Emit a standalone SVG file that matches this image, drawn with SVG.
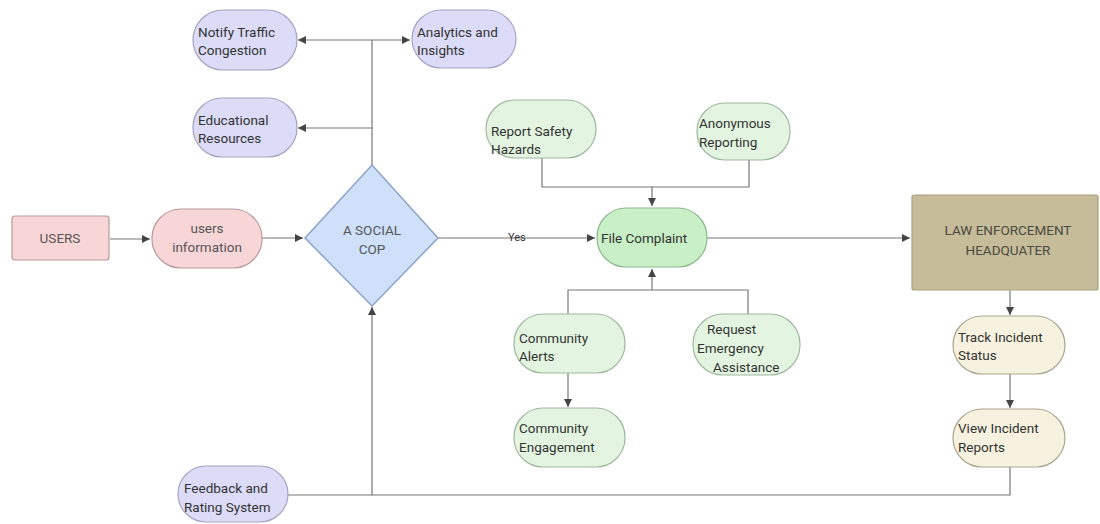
<svg xmlns="http://www.w3.org/2000/svg" width="1100" height="524" viewBox="0 0 1100 524">
<defs>
<marker id="arr" markerWidth="10" markerHeight="10" refX="8" refY="4" orient="auto" markerUnits="userSpaceOnUse">
<path d="M0,0 L8,4 L0,8 Z" fill="#444"/>
</marker>
<style>
text{font-family:Roboto,"Liberation Sans",sans-serif;font-size:13.5px;fill:#333}
.c{text-anchor:middle}
.lav{fill:#dcdcf8;stroke:#a3a3c2;stroke-width:1.2}
.grn{fill:#e3f5e1;stroke:#9fb89f;stroke-width:1.2}
.grn2{fill:#c8efc6;stroke:#8fb88f;stroke-width:1.2}
.pnk{fill:#f8d6d8;stroke:#b89a9c;stroke-width:1.2}
.crm{fill:#f6f2df;stroke:#aaa590;stroke-width:1.2}
.ln{fill:none;stroke:#777;stroke-width:1.2}
</style>
</defs>
<rect width="1100" height="524" fill="#fff"/>
<g id="connectors">
<path class="ln" d="M372,165 L372,40"/>
<path class="ln" d="M372,40 L298,40" marker-end="url(#arr)"/>
<path class="ln" d="M372,40 L410,40" marker-end="url(#arr)"/>
<path class="ln" d="M372,128 L298,128" marker-end="url(#arr)"/>
<path class="ln" d="M110,239 L150,239" marker-end="url(#arr)"/>
<path class="ln" d="M262,238 L303,238" marker-end="url(#arr)"/>
<path class="ln" d="M438,238 L595,238" marker-end="url(#arr)"/>
<text x="508" y="241" style="font-size:11px">Yes</text>
<path class="ln" d="M542,158 L542,187 L652,187"/>
<path class="ln" d="M749,160 L749,187 L652,187 L652,206" marker-end="url(#arr)"/>
<path class="ln" d="M568,314 L568,290 L748,290 L748,314"/>
<path class="ln" d="M652,290 L652,269" marker-end="url(#arr)"/>
<path class="ln" d="M568,373 L568,407" marker-end="url(#arr)"/>
<path class="ln" d="M707,238 L910,238" marker-end="url(#arr)"/>
<path class="ln" d="M1010,290 L1010,315" marker-end="url(#arr)"/>
<path class="ln" d="M1010,374 L1010,408" marker-end="url(#arr)"/>
<path class="ln" d="M1010,467 L1010,495 L372,495 L372,307" marker-end="url(#arr)"/>
<path class="ln" d="M288,495 L372,495"/>
</g>
<g id="notify"><rect class="lav" x="193" y="10" width="104" height="60" rx="30"/><text x="198" y="37">Notify Traffic</text><text x="198" y="55">Congestion</text></g>
<g id="analytics"><rect class="lav" x="412" y="10" width="104" height="58" rx="29"/><text x="417" y="37">Analytics and</text><text x="417" y="55">Insights</text></g>
<g id="educational"><rect class="lav" x="193" y="98" width="104" height="59" rx="29"/><text x="198" y="125">Educational</text><text x="198" y="143">Resources</text></g>
<g id="users"><rect class="pnk" x="12" y="216" width="97" height="44" rx="3"/><text class="c" x="60" y="243" style="fill:#555">USERS</text></g>
<g id="usersinfo"><rect class="pnk" x="152" y="209" width="110" height="59" rx="29"/><text class="c" x="207" y="233" style="fill:#555">users</text><text class="c" x="207" y="252" style="fill:#555">information</text></g>
<g id="socialcop"><path d="M372,165 L438,238 L372,306 L305,238 Z" fill="#cfe0fb" stroke="#8ea3c9" stroke-width="1.5"/><text class="c" x="372" y="235" style="fill:#555">A SOCIAL</text><text class="c" x="372" y="254" style="fill:#555">COP</text></g>
<g id="reportsafety"><rect class="grn" x="486" y="100" width="110" height="58" rx="29"/><text x="491" y="136">Report Safety</text><text x="491" y="154">Hazards</text></g>
<g id="anonymous"><rect class="grn" x="697" y="103" width="93" height="57" rx="28"/><text x="699" y="128">Anonymous</text><text x="699" y="147">Reporting</text></g>
<g id="filecomplaint"><rect class="grn2" x="597" y="208" width="110" height="59" rx="29"/><text x="601" y="243">File Complaint</text></g>
<g id="lawhq"><rect x="912" y="195" width="186" height="95" rx="2" fill="#c6bc9a" stroke="#a89f80" stroke-width="1.2"/><text class="c" x="1008" y="235" style="fill:#4a4a40">LAW ENFORCEMENT</text><text class="c" x="1008" y="255" style="fill:#4a4a40">HEADQUATER</text></g>
<g id="communityalerts"><rect class="grn" x="514" y="314" width="111" height="59" rx="29"/><text x="519" y="343">Community</text><text x="519" y="361">Alerts</text></g>
<g id="requestemergency"><rect class="grn" x="693" y="314" width="107" height="61" rx="30"/><text x="707" y="334">Request</text><text x="697" y="353">Emergency</text><text x="713" y="372">Assistance</text></g>
<g id="communityengagement"><rect class="grn" x="514" y="408" width="111" height="59" rx="29"/><text x="519" y="433">Community</text><text x="519" y="452">Engagement</text></g>
<g id="trackincident"><rect class="crm" x="953" y="316" width="112" height="58" rx="29"/><text x="958" y="342">Track Incident</text><text x="958" y="360">Status</text></g>
<g id="viewincident"><rect class="crm" x="953" y="409" width="112" height="58" rx="29"/><text x="958" y="433">View Incident</text><text x="958" y="452">Reports</text></g>
<g id="feedback"><rect class="lav" x="178" y="466" width="110" height="56" rx="28"/><text x="184" y="493">Feedback and</text><text x="184" y="512">Rating System</text></g>
</svg>
